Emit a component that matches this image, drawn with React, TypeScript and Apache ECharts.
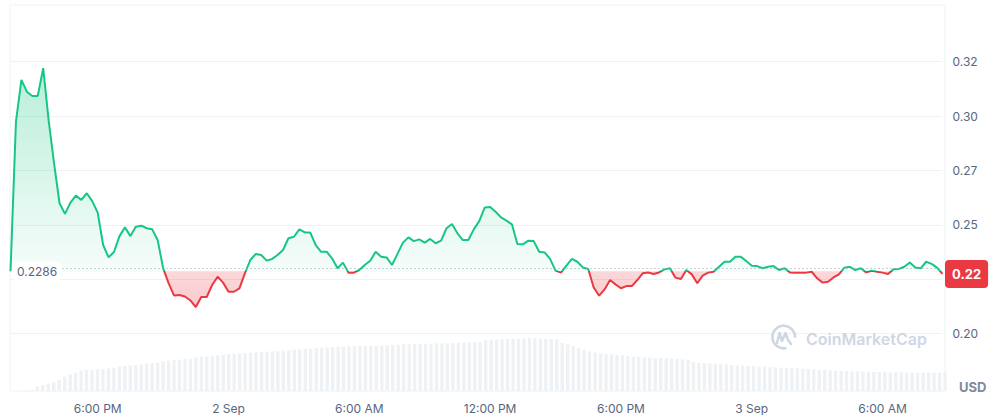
import React, { useEffect, useRef } from "react";
import * as echarts from "echarts";

// ---- data ----
const START_UTC = Date.UTC(2024, 8, 1, 14, 0); // 1 Sep, 2:00 PM
const STEP_MINUTES = 15;
const BASE_PRICE = 0.2286;
const MONTHS = ["Jan", "Feb", "Mar", "Apr", "May", "Jun", "Jul", "Aug", "Sep", "Oct", "Nov", "Dec"];
const PRICE_TICKS = [0.175, 0.35, 0.025]; // min, max, interval

const price = [
  0.2286, 0.2974, 0.3166, 0.3112, 0.3092, 0.3092, 0.3220, 0.2980, 0.2781, 0.2599,
  0.2550, 0.2602, 0.2634, 0.2614, 0.2645, 0.2609, 0.2556, 0.2407, 0.2350, 0.2376,
  0.2448, 0.2488, 0.2448, 0.2491, 0.2496, 0.2484, 0.2479, 0.2430, 0.2301, 0.2232,
  0.2175, 0.2177, 0.2170, 0.2152, 0.2122, 0.2168, 0.2168, 0.2223, 0.2261, 0.2234,
  0.2192, 0.2192, 0.2208, 0.2277, 0.2338, 0.2366, 0.2361, 0.2335, 0.2343, 0.2361,
  0.2384, 0.2438, 0.2445, 0.2479, 0.2465, 0.2464, 0.2407, 0.2376, 0.2376, 0.2346,
  0.2300, 0.2326, 0.2280, 0.2280, 0.2292, 0.2315, 0.2335, 0.2376, 0.2353, 0.2350,
  0.2315, 0.2366, 0.2418, 0.2442, 0.2425, 0.2433, 0.2418, 0.2435, 0.2415, 0.2427,
  0.2484, 0.2504, 0.2461, 0.2430, 0.2430, 0.2479, 0.2517, 0.2579, 0.2582, 0.2560,
  0.2534, 0.2519, 0.2502, 0.2412, 0.2410, 0.2427, 0.2425, 0.2376, 0.2373, 0.2343,
  0.2289, 0.2280, 0.2312, 0.2343, 0.2330, 0.2304, 0.2297, 0.2212, 0.2174, 0.2203,
  0.2246, 0.2226, 0.2208, 0.2218, 0.2218, 0.2246, 0.2277, 0.2281, 0.2274, 0.2281,
  0.2295, 0.2300, 0.2257, 0.2251, 0.2292, 0.2272, 0.2231, 0.2266, 0.2280, 0.2284,
  0.2307, 0.2330, 0.2330, 0.2353, 0.2353, 0.2333, 0.2312, 0.2310, 0.2300, 0.2307,
  0.2310, 0.2292, 0.2300, 0.2281, 0.2280, 0.2280, 0.2280, 0.2284, 0.2254, 0.2234,
  0.2238, 0.2258, 0.2272, 0.2303, 0.2307, 0.2292, 0.2300, 0.2281, 0.2289, 0.2284,
  0.2280, 0.2274, 0.2295, 0.2297, 0.2307, 0.2327, 0.2304, 0.2300, 0.2330, 0.2320,
  0.2303, 0.2274,
];

// 24h volume (millions USD)
const volume = [
  0, 0, 0, 0, 0.10, 0.43, 0.60, 0.77, 0.87, 1.10,
  1.43, 1.67, 1.83, 2.03, 2.10, 2.10, 2.17, 2.20, 2.27, 2.33,
  2.43, 2.50, 2.53, 2.60, 2.67, 2.73, 2.80, 2.83, 2.97, 3.03,
  3.10, 3.13, 3.20, 3.23, 3.33, 3.43, 3.47, 3.53, 3.57, 3.63,
  3.70, 3.73, 3.77, 3.80, 3.83, 3.87, 3.90, 3.93, 3.97, 4.00,
  4.03, 4.10, 4.13, 4.17, 4.20, 4.23, 4.30, 4.33, 4.37, 4.40,
  4.43, 4.43, 4.47, 4.47, 4.50, 4.50, 4.53, 4.53, 4.57, 4.57,
  4.60, 4.63, 4.67, 4.67, 4.70, 4.70, 4.73, 4.73, 4.77, 4.77,
  4.77, 4.80, 4.80, 4.83, 4.87, 4.87, 4.90, 5.10, 5.13, 5.17,
  5.20, 5.20, 5.23, 5.23, 5.27, 5.33, 5.27, 5.23, 5.20, 5.20,
  5.17, 4.80, 4.67, 4.50, 4.30, 4.13, 3.97, 3.87, 3.77, 3.70,
  3.67, 3.60, 3.57, 3.50, 3.43, 3.40, 3.37, 3.33, 3.30, 3.30,
  3.27, 3.23, 3.20, 3.17, 3.10, 2.90, 2.83, 2.80, 2.77, 2.73,
  2.70, 2.67, 2.60, 2.57, 2.53, 2.50, 2.50, 2.47, 2.43, 2.40,
  2.37, 2.33, 2.30, 2.30, 2.27, 2.23, 2.20, 2.17, 2.13, 2.10,
  2.07, 2.03, 2.00, 2.00, 1.97, 1.97, 1.93, 1.93, 1.90, 1.90,
  1.90, 1.87, 1.87, 1.87, 1.87, 1.83, 1.83, 1.83, 1.83, 1.83,
  1.83, 1.83,
];

const times = price.map((_, i) => String(START_UTC + i * STEP_MINUTES * 60000));

const GREEN = "#16c784";
const RED = "#ea3943";
const LABEL = "#58667e";
const GRID = "#eff2f5";
const WATERMARK = "#cfd6e4";
const FONT = "Inter";

function fmtTime(v: string) {
  const d = new Date(Number(v));
  const h = d.getUTCHours();
  const m = d.getUTCMinutes();
  if (h === 0 && m === 0) return `${d.getUTCDate()} ${MONTHS[d.getUTCMonth()]}`;
  const h12 = h % 12 === 0 ? 12 : h % 12;
  return `${h12}:${String(m).padStart(2, "0")} ${h < 12 ? "AM" : "PM"}`;
}
function isMajor(v: string) {
  const d = new Date(Number(v));
  return d.getUTCMinutes() === 0 && d.getUTCHours() % 6 === 0;
}
function floor2(v: number) {
  return (Math.floor(v * 100 + 1e-6) / 100).toFixed(2);
}
const near = (a: number, b: number) => Math.abs(a - b) < 1e-6;

export default function App() {
  const ref = useRef<HTMLDivElement>(null);

  useEffect(() => {
    if (!ref.current) return;
    const chart = echarts.init(ref.current, undefined, { renderer: "svg" });

    const maxV = Math.max(...price);
    const minV = Math.min(...price);
    const split = (maxV - BASE_PRICE) / (maxV - minV);
    const last = price[price.length - 1];

    const lineGrad = new echarts.graphic.LinearGradient(0, 0, 0, 1, [
      { offset: 0, color: GREEN },
      { offset: split, color: GREEN },
      { offset: split, color: RED },
      { offset: 1, color: RED },
    ]);
    const areaGrad = new echarts.graphic.LinearGradient(0, 0, 0, 1, [
      { offset: 0, color: "rgba(22,199,132,0.30)" },
      { offset: split, color: "rgba(22,199,132,0.04)" },
      { offset: split, color: "rgba(234,57,67,0.20)" },
      { offset: 1, color: "rgba(234,57,67,0.26)" },
    ]);

    const [pMin, pMax, pInt] = PRICE_TICKS;

    chart.setOption({
      animation: false,
      backgroundColor: "#ffffff",
      textStyle: { fontFamily: FONT },
      grid: [
        { left: 10.5, right: 54.5, top: 7.3, bottom: 27.1 },
        { left: 10, right: 52, top: 5, bottom: 24, show: true, borderColor: GRID, borderWidth: 1 },
      ],
      xAxis: [
        {
          type: "category",
          gridIndex: 0,
          data: times,
          boundaryGap: false,
          axisLine: { show: false },
          axisTick: { show: false },
          splitLine: { show: false },
          axisLabel: {
            interval: (_i: number, v: string) => isMajor(v),
            formatter: (v: string) => fmtTime(v),
            color: LABEL,
            fontSize: 12,
            fontFamily: FONT,
            margin: 15,
          },
        },
        {
          type: "category",
          gridIndex: 1,
          data: times,
          boundaryGap: false,
          show: false,
        },
      ],
      yAxis: [
        {
          type: "value",
          gridIndex: 0,
          position: "right",
          min: pMin,
          max: pMax,
          interval: pInt,
          axisLine: { show: false },
          axisTick: { show: false },
          splitLine: { show: true, showMinLine: false, showMaxLine: false, lineStyle: { color: GRID, width: 1 } },
          axisLabel: {
            color: LABEL,
            fontSize: 12,
            fontFamily: FONT,
            margin: 10,
            formatter: (v: number) =>
              near(v, pMin) || near(v, pMax) || near(v, 0.225) ? "" : floor2(v),
          },
        },
        {
          type: "value",
          gridIndex: 1,
          min: 0,
          max: 38.6,
          show: false,
        },
      ],
      series: [
        {
          type: "bar",
          xAxisIndex: 1,
          yAxisIndex: 1,
          data: volume,
          barWidth: "62%",
          itemStyle: { color: GRID },
          silent: true,
          z: 1,
        },
        {
          type: "line",
          xAxisIndex: 0,
          yAxisIndex: 0,
          data: price,
          symbol: "none",
          showSymbol: false,
          lineStyle: { width: 2, color: lineGrad },
          areaStyle: { origin: BASE_PRICE, color: areaGrad, opacity: 1 },
          silent: true,
          z: 3,
          markLine: {
            silent: true,
            symbol: ["none", "none"],
            label: { show: false },
            lineStyle: { type: [1, 3], color: "#98a1b3", width: 1 },
            data: [{ yAxis: BASE_PRICE }],
          },
        },
        {
          type: "scatter",
          xAxisIndex: 0,
          yAxisIndex: 0,
          silent: true,
          z: 20,
          symbolSize: 1,
          itemStyle: { color: "rgba(0,0,0,0)", opacity: 1 },
          data: [
            {
              value: [times[0], BASE_PRICE],
              label: {
                show: true,
                position: "right",
                distance: 1,
                formatter: String(BASE_PRICE),
                color: LABEL,
                fontSize: 12,
                fontFamily: FONT,
                backgroundColor: "#ffffff",
                padding: [3, 5, 3, 5],
                borderRadius: 6,
                lineHeight: 13,
              },
            },
            {
              value: [times[times.length - 1], last],
              label: {
                show: true,
                position: "right",
                distance: 2,
                formatter: floor2(last),
                color: "#ffffff",
                fontSize: 13,
                fontWeight: "bold",
                fontFamily: FONT,
                backgroundColor: RED,
                padding: [7, 7, 7, 7],
                borderRadius: 4,
                lineHeight: 14,
              },
            },
          ],
        },
      ],
      graphic: [
        {
          type: "arc",
          z: 100,
          silent: true,
          shape: { cx: 783.7, cy: 337, r: 11.3, startAngle: Math.PI * 0.42, endAngle: Math.PI * 2.02, clockwise: true },
          style: { stroke: WATERMARK, lineWidth: 2.6, fill: "none" },
        },
        {
          type: "polyline",
          z: 100,
          silent: true,
          shape: {
            points: [
              [777, 343], [779.5, 333], [782, 341], [785.5, 333], [788, 340], [791, 344],
            ],
          },
          style: { stroke: WATERMARK, lineWidth: 2.6, fill: "none", lineJoin: "round", lineCap: "round" },
        },
        {
          type: "text",
          z: 100,
          silent: true,
          x: 806,
          y: 339,
          style: {
            text: "CoinMarketCap",
            fill: WATERMARK,
            fontSize: 16,
            fontWeight: 600,
            fontFamily: FONT,
            verticalAlign: "middle",
          },
        },
        {
          type: "text",
          z: 100,
          silent: true,
          x: 959,
          y: 387,
          style: {
            text: "USD",
            fill: "#808a9d",
            fontSize: 13,
            fontWeight: "bold",
            fontFamily: FONT,
            verticalAlign: "middle",
          },
        },
      ],
    });

    return () => chart.dispose();
  }, []);

  return (
    <div
      ref={ref}
      style={{ position: "fixed", left: 0, top: 0, width: 997, height: 415, background: "#fff" }}
    />
  );
}
